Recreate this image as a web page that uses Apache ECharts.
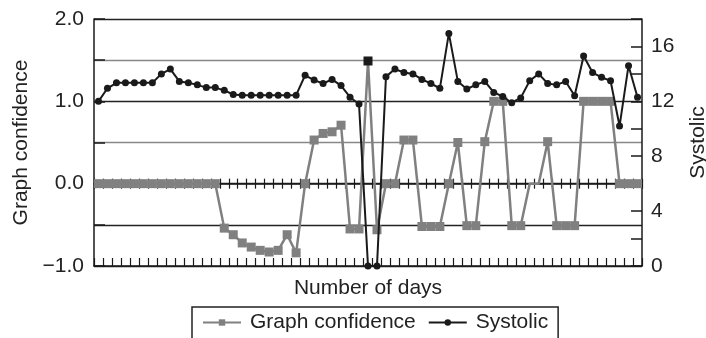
<!DOCTYPE html>
<html>
<head>
<meta charset="utf-8">
<script src="https://cdn.jsdelivr.net/npm/echarts@6/dist/echarts.min.js"></script>
<style>
html,body{margin:0;padding:0;background:#fff;}
#chart{width:706px;height:338px;}
</style>
</head>
<body>
<div id="chart"></div>
<script>
// ---- data ----
const days = Array.from({length: 61}, (_, i) => String(i + 1));
const graphConfidence = [
  0, 0, 0, 0, 0, 0, 0, 0, 0, 0,
  0, 0, 0, 0, -0.54, -0.62, -0.72, -0.77, -0.81, -0.83,
  -0.81, -0.62, -0.84, 0, 0.53, 0.61, 0.63, 0.71, -0.55, -0.55,
  1.49, -0.56, 0, 0, 0.53, 0.53, -0.52, -0.52, -0.52, 0,
  0.5, -0.51, -0.51, 0.51, 1.0, 1.0, -0.51, -0.51, 0, 0,
  0.51, -0.51, -0.51, -0.51, 1.0, 1.0, 1.0, 1.0, 0, 0,
  0
];
const systolic = [
  12.0, 12.95, 13.35, 13.35, 13.35, 13.35, 13.35, 14.0, 14.35, 13.45,
  13.35, 13.2, 13.0, 13.0, 12.8, 12.5, 12.45, 12.45, 12.45, 12.45,
  12.45, 12.45, 12.45, 13.9, 13.55, 13.3, 13.6, 13.15, 12.3, 11.8,
  0, 0, 13.8, 14.35, 14.1, 14.0, 13.6, 13.3, 12.95, 16.95,
  13.45, 12.9, 13.2, 13.45, 12.65, 12.35, 11.9, 12.25, 13.5, 14.0,
  13.3, 13.2, 13.45, 12.4, 15.3, 14.1, 13.75, 13.5, 10.2, 14.6,
  12.3
];
const leftTicks = [-1, 2, 0.5];   // min, max, interval
const rightTicks = [0, 18, 2];
const highlightIndex = 30;        // square drawn in black
const hiddenMarkers = [48, 49];   // points drawn without marker

// ---- chart ----
const FONT = 'Liberation Sans, Arial, Helvetica, sans-serif';
const FS = 21;
const GRAY = '#808080';
const BLACK = '#1a1a1a';

const gcData = graphConfidence.map((v, i) => {
  if (i === highlightIndex) return {value: v, itemStyle: {color: BLACK}};
  if (hiddenMarkers.includes(i)) return {value: v, symbol: 'none'};
  return v;
});

const chart = echarts.init(document.getElementById('chart'), null, {renderer: 'canvas'});
const catAxisBase = {
  type: 'category',
  data: days,
  boundaryGap: true,
  axisLabel: {show: false},
  splitLine: {show: false}
};
chart.setOption({
  animation: false,
  textStyle: {fontFamily: FONT},
  grid: {left: 94, right: 64, top: 19, bottom: 72, containLabel: false, outerBoundsMode: 'none'},
  legend: {
    data: ['Graph confidence', 'Systolic'],
    left: 192,
    top: 307,
    orient: 'horizontal',
    borderColor: '#222',
    borderWidth: 1.5,
    padding: [5, 10, 8, 10],
    itemWidth: 38,
    itemHeight: 8,
    itemGap: 12,
    textStyle: {fontSize: FS, color: '#222', fontFamily: FONT, padding: [0, 0, 0, 4]}
  },
  xAxis: [
    Object.assign({}, catAxisBase, {
      position: 'bottom',
      name: 'Number of days',
      nameLocation: 'middle',
      nameGap: 12,
      nameTextStyle: {fontSize: FS, color: '#222', fontFamily: FONT, verticalAlign: 'top'},
      axisLine: {onZero: false, lineStyle: {color: BLACK, width: 1.5}},
      axisTick: {show: true, inside: true, length: 8, interval: 0, lineStyle: {color: BLACK, width: 1.2}}
    }),
    Object.assign({}, catAxisBase, {
      position: 'bottom',
      axisLine: {onZero: true, onZeroAxisIndex: 0, lineStyle: {color: BLACK, width: 1.5}},
      axisTick: {show: true, inside: true, length: 5, interval: 0, lineStyle: {color: BLACK, width: 1.2}}
    }),
    Object.assign({}, catAxisBase, {
      position: 'top',
      axisLine: {show: false, onZero: true, onZeroAxisIndex: 0},
      axisTick: {show: true, inside: true, length: 5, interval: 0, lineStyle: {color: BLACK, width: 1.2}}
    })
  ],
  yAxis: [
    {
      type: 'value',
      min: leftTicks[0], max: leftTicks[1], interval: leftTicks[2],
      position: 'left',
      name: 'Graph confidence',
      nameLocation: 'middle',
      nameRotate: 90,
      nameGap: 62,
      nameTextStyle: {fontSize: FS, color: '#222', fontFamily: FONT},
      axisLine: {show: true, lineStyle: {color: BLACK, width: 1.5}},
      axisTick: {show: true, inside: true, length: 11, lineStyle: {color: BLACK, width: 1.5}},
      axisLabel: {
        fontSize: FS, color: '#222', fontFamily: FONT, margin: 10,
        formatter: v => Number.isInteger(v) ? (v < 0 ? '\u2212' : '') + Math.abs(v).toFixed(1) : ''
      },
      splitLine: {show: true, lineStyle: {width: 1.3, color: ['#222', '#222', '#222', '#888', '#222', '#888', '#222']}}
    },
    {
      type: 'value',
      min: rightTicks[0], max: rightTicks[1], interval: rightTicks[2],
      position: 'right',
      name: 'Systolic',
      nameLocation: 'middle',
      nameRotate: 90,
      nameGap: 46,
      nameTextStyle: {fontSize: FS, color: '#222', fontFamily: FONT},
      axisLine: {show: true, lineStyle: {color: BLACK, width: 1.5}},
      axisTick: {show: true, inside: true, length: 11, lineStyle: {color: BLACK, width: 1.5}},
      axisLabel: {
        fontSize: FS, color: '#222', fontFamily: FONT, margin: 9,
        formatter: v => (v % 4 === 0 && v < 18) ? String(v) : ''
      },
      splitLine: {show: false}
    }
  ],
  series: [
    {
      name: 'Graph confidence',
      type: 'line',
      xAxisIndex: 0,
      yAxisIndex: 0,
      data: gcData,
      symbol: 'rect',
      symbolSize: 9,
      showAllSymbol: true,
      color: GRAY,
      lineStyle: {color: GRAY, width: 2.5},
      itemStyle: {color: GRAY},
      z: 3
    },
    {
      name: 'Systolic',
      type: 'line',
      xAxisIndex: 0,
      yAxisIndex: 1,
      data: systolic,
      symbol: 'circle',
      symbolSize: 7,
      showAllSymbol: true,
      color: BLACK,
      lineStyle: {color: BLACK, width: 2},
      itemStyle: {color: BLACK},
      z: 4
    }
  ]
});
</script>
</body>
</html>
